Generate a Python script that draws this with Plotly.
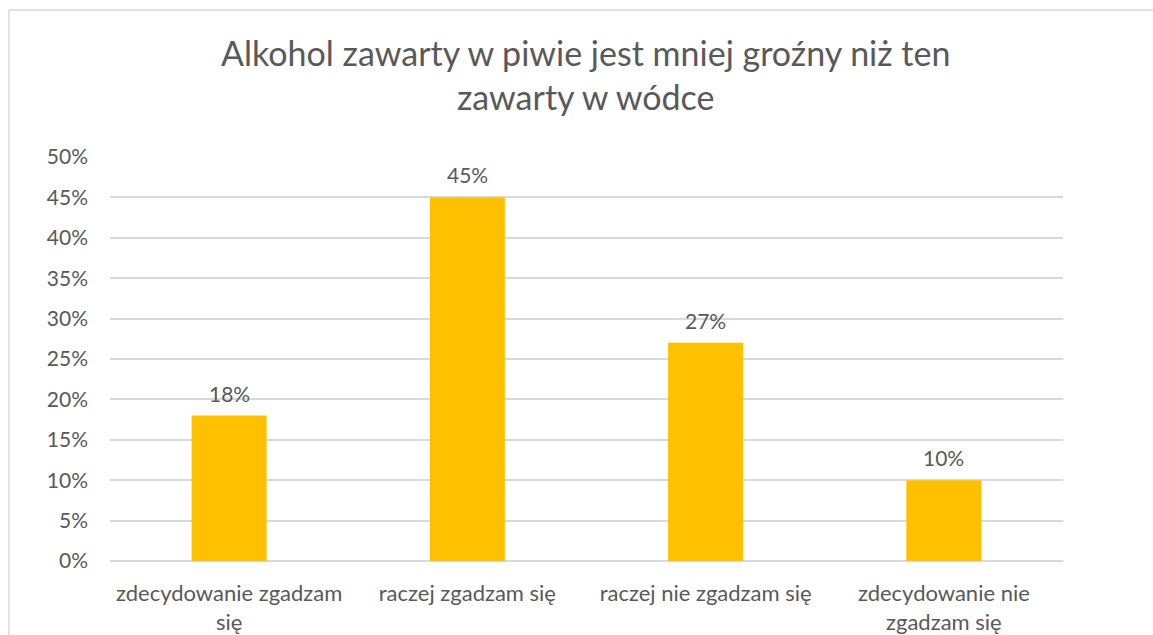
import plotly.graph_objects as go

categories = ['zdecydowanie zgadzam<br>się', 'raczej zgadzam się',
              'raczej nie zgadzam się', 'zdecydowanie nie<br>zgadzam się']
values = [0.18, 0.45, 0.27, 0.10]
labels = ['18%', '45%', '27%', '10%']
tick_vals = [0, 0.05, 0.10, 0.15, 0.20, 0.25, 0.30, 0.35, 0.40, 0.45, 0.50]
tick_text = ['0%', '5%', '10%', '15%', '20%', '25%', '30%', '35%', '40%', '45%', '50%']

font_name = 'Lato, Carlito, Calibri, sans-serif'
grey = '#595959'
frame = '#D9D9D9'

fig = go.Figure(go.Bar(x=categories, y=values,
                       marker=dict(color='#FFC000', line=dict(width=0))))

# value labels above the bars
annotations = []
for c, v, t in zip(categories, values, labels):
    annotations.append(dict(x=c, y=v, text=t, showarrow=False,
                            yanchor='bottom', yshift=8,
                            font=dict(size=21, color=grey, family=font_name)))

fig.update_layout(
    width=1153, height=635,
    paper_bgcolor='white', plot_bgcolor='white',
    margin=dict(l=110, r=90, t=157, b=74),
    bargap=0.685,
    showlegend=False,
    font=dict(family=font_name, color=grey, size=21),
    title=dict(text='Alkohol zawarty w piwie jest mniej groźny niż ten<br>zawarty w wódce',
               x=0.508, xanchor='center', y=0.896, yanchor='top',
               font=dict(size=34, color=grey, family=font_name)),
    annotations=annotations,
    # chart frame: left and top edges only show in the crop
    shapes=[dict(type='line', xref='paper', yref='paper',
                 x0=-0.106, x1=-0.106, y0=-0.5, y1=1.364,
                 line=dict(color=frame, width=1.5), layer='below'),
            dict(type='line', xref='paper', yref='paper',
                 x0=-0.106, x1=1.2, y0=1.364, y1=1.364,
                 line=dict(color=frame, width=1.5), layer='below')],
)
fig.update_xaxes(showline=False, showgrid=False, ticks='', ticklabelstandoff=17,
                 automargin=False, tickfont=dict(size=22, color=grey))
fig.update_yaxes(range=[0, 0.5], tickvals=tick_vals, ticktext=tick_text,
                 showgrid=True, gridcolor=frame, gridwidth=1.5,
                 zeroline=True, zerolinecolor=frame, zerolinewidth=1.5,
                 automargin=False,
                 ticks='', ticklabelstandoff=21, tickfont=dict(size=21, color=grey))

fig.write_html('out.html', config={'displayModeBar': False},
               post_script="document.body.style.margin='0';")
